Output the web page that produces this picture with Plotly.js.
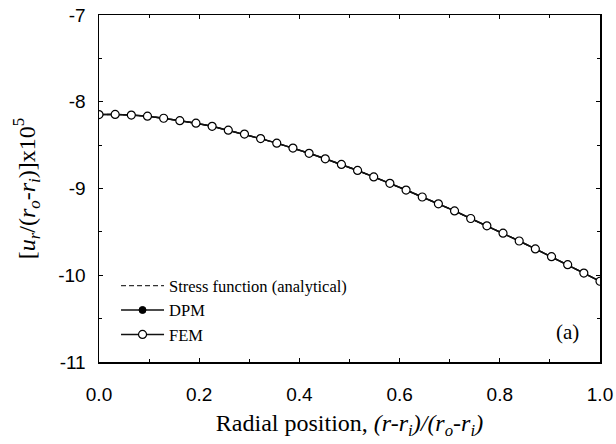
<!DOCTYPE html>
<html>
<head>
<meta charset="utf-8">
<script src="https://cdn.plot.ly/plotly-3.0.1.min.js"></script>
<style>html,body{margin:0;padding:0;background:#fff;}#chart{width:616px;height:444px;}</style>
</head>
<body>
<div id="chart"></div>
<script>
// radial position (r-ri)/(ro-ri), 32 equally spaced stations
const positions = [0, 1/31, 2/31, 3/31, 4/31, 5/31, 6/31, 7/31, 8/31, 9/31, 10/31, 11/31, 12/31, 13/31, 14/31, 15/31,
  16/31, 17/31, 18/31, 19/31, 20/31, 21/31, 22/31, 23/31, 24/31, 25/31, 26/31, 27/31, 28/31, 29/31, 30/31, 1];
const analytical = [-8.148, -8.146, -8.154, -8.166, -8.190, -8.218, -8.247, -8.283, -8.328, -8.373, -8.425, -8.477,
  -8.534, -8.594, -8.658, -8.722, -8.792, -8.866, -8.940, -9.018, -9.098, -9.177, -9.258, -9.346, -9.430, -9.515,
  -9.605, -9.696, -9.786, -9.878, -9.975, -10.069];
const dpm = [-8.148, -8.146, -8.154, -8.166, -8.190, -8.218, -8.247, -8.283, -8.328, -8.373, -8.425, -8.477,
  -8.534, -8.594, -8.658, -8.722, -8.792, -8.866, -8.940, -9.018, -9.098, -9.177, -9.258, -9.346, -9.430, -9.515,
  -9.605, -9.696, -9.786, -9.878, -9.975, -10.069];
const fem = [-8.148, -8.146, -8.154, -8.166, -8.190, -8.218, -8.247, -8.283, -8.328, -8.373, -8.425, -8.477,
  -8.534, -8.594, -8.658, -8.722, -8.792, -8.866, -8.940, -9.018, -9.098, -9.177, -9.258, -9.346, -9.430, -9.515,
  -9.605, -9.696, -9.786, -9.878, -9.975, -10.069];
const xTickVals = [0, 0.2, 0.4, 0.6, 0.8, 1.0];
const xTickText = ['0.0', '0.2', '0.4', '0.6', '0.8', '1.0'];
const yTickVals = [-11, -10, -9, -8, -7];
const yTickText = ['-11', '-10', '-9', '-8', '-7'];
const seriesNames = ['Stress function (analytical)', 'DPM', 'FEM'];

const serif = 'Liberation Serif, Times New Roman, serif';
const sans = 'Liberation Sans, Arial, sans-serif';

const traces = [
  {x: positions, y: analytical, name: seriesNames[0], mode: 'lines', type: 'scatter',
   line: {color: '#333', width: 1.3, dash: '5px,3px'}},
  {x: positions, y: dpm, name: seriesNames[1], mode: 'lines+markers', type: 'scatter',
   line: {color: '#111', width: 1.5}, marker: {symbol: 'circle', size: 7, color: '#000', line: {color: '#000', width: 1}}},
  {x: positions, y: fem, name: seriesNames[2], mode: 'lines+markers', type: 'scatter',
   line: {color: '#111', width: 1.5}, marker: {symbol: 'circle', size: 8, color: '#fff', line: {color: '#000', width: 1.2}}}
];

const axisCommon = {
  showgrid: false, zeroline: false, showline: true, linecolor: '#000', linewidth: 1.5,
  mirror: 'ticks', ticks: 'inside', ticklen: 4, tickwidth: 1, tickcolor: '#000',
  tickfont: {family: sans, size: 19, color: '#000'}, tickmode: 'array'
};

const layout = {
  width: 616, height: 444,
  margin: {l: 99, r: 16, t: 15, b: 82},
  paper_bgcolor: '#fff', plot_bgcolor: '#fff',
  showlegend: true,
  legend: {x: 0.034, y: 0.27, xanchor: 'left', yanchor: 'top', bgcolor: 'rgba(0,0,0,0)',
           font: {family: serif, size: 16.5, color: '#000'}, itemwidth: 43, tracegroupgap: 0},
  xaxis: Object.assign({}, axisCommon, {
    range: [0, 1], tickvals: xTickVals, ticktext: xTickText, ticklabelstandoff: 15,
    minor: {dtick: 0.1, ticks: 'inside', ticklen: 3, tickcolor: '#000'},
    title: {text: 'Radial position, <i>(r-r<sub>i</sub>)/(r<sub>o</sub>-r<sub>i</sub>)</i>',
            font: {family: serif, size: 24, color: '#000'}, standoff: 10}
  }),
  yaxis: Object.assign({}, axisCommon, {
    range: [-11, -7], tickvals: yTickVals, ticktext: yTickText, ticklabelstandoff: 8,
    minor: {dtick: 0.5, ticks: 'inside', ticklen: 3, tickcolor: '#000'},
    title: {text: '[<i>u<sub>r</sub></i>/(<i>r<sub>o</sub></i>-<i>r<sub>i</sub></i>)]x10<sup>5</sup>',
            font: {family: serif, size: 24, color: '#000'}, standoff: 16}
  }),
  annotations: [
    {xref: 'paper', yref: 'paper', x: 0.936, y: 0.087, xanchor: 'center', yanchor: 'middle',
     text: '(a)', showarrow: false, font: {family: serif, size: 21, color: '#000'}}
  ]
};

Plotly.newPlot('chart', traces, layout, {displayModeBar: false, staticPlot: true});
</script>
</body>
</html>
